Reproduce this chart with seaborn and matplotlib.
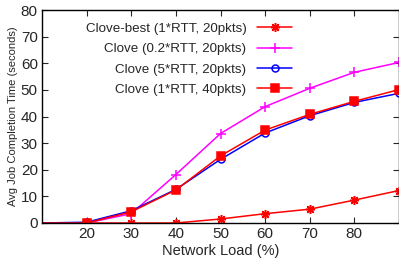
import matplotlib
matplotlib.use("Agg")
import matplotlib.pyplot as plt
import seaborn as sns
import pandas as pd

# data
load = [10, 20, 30, 40, 50, 60, 70, 80, 90]
best_1rtt_20 = [0, 0, 0, 0, 1.5, 3.5, 5.2, 8.6, 12.2]
clove_02rtt_20 = [0, 0, 3.5, 18.2, 33.6, 43.7, 50.6, 56.6, 60.3]
clove_5rtt_20 = [0, 0.3, 4.6, 12.6, 23.9, 33.8, 40.3, 45.3, 48.7]
clove_1rtt_40 = [0, 0, 4.2, 12.4, 25.2, 34.9, 40.8, 45.7, 50.1]

labels = ["Clove-best (1*RTT, 20pkts)", "Clove (0.2*RTT, 20pkts)",
          "Clove (5*RTT, 20pkts)", "Clove (1*RTT, 40pkts)"]
series = [best_1rtt_20, clove_02rtt_20, clove_5rtt_20, clove_1rtt_40]
colors = ["#ff0000", "#ff00ff", "#0000ff", "#ff0000"]
markers = [(8, 2, 0), "+", "o", "s"]
msizes = [6.5, 7, 5, 5.5]
xticks = [20, 30, 40, 50, 60, 70, 80]
yticks = [0, 10, 20, 30, 40, 50, 60, 70, 80]

sns.set_style("ticks")
plt.rcParams["font.family"] = ["Liberation Sans", "DejaVu Sans"]

fig = plt.figure(figsize=(3.99, 2.65), dpi=100)
ax = fig.add_axes([42 / 399, 1 - 223 / 265, 357 / 399, 213 / 265])

for vals, lab, col, mk, ms in zip(series, labels, colors, markers, msizes):
    df = pd.DataFrame({"load": load, "jct": vals})
    face = "none" if mk == "o" else col
    sns.lineplot(data=df, x="load", y="jct", ax=ax, color=col, label=lab,
                 marker=mk, markersize=ms, markerfacecolor=face,
                 markeredgecolor=col, markeredgewidth=1.1, linewidth=1.1,
                 markevery=list(range(1, len(load))), clip_on=True)

ax.set_xlim(10, 90)
ax.set_ylim(0, 80)
ax.set_xticks(xticks)
ax.set_yticks(yticks)
ax.tick_params(direction="in", top=True, right=True, length=4,
               labelsize=11, width=0.8, pad=3)
ax.set_xlabel("Network Load (%)", fontsize=10.5, labelpad=2)
ax.set_ylabel("Avg Job Completion Time (seconds)", fontsize=8, labelpad=2)
for s in ax.spines.values():
    s.set_linewidth(1.0)
    s.set_color("black")

ax.legend(loc="upper right", bbox_to_anchor=(0.70, 0.94), frameon=False,
          markerfirst=False, fontsize=9.6, handlelength=2.6,
          handletextpad=0.8, labelspacing=0.6, borderpad=0,
          borderaxespad=0)

fig.savefig("out.png", dpi=100)
